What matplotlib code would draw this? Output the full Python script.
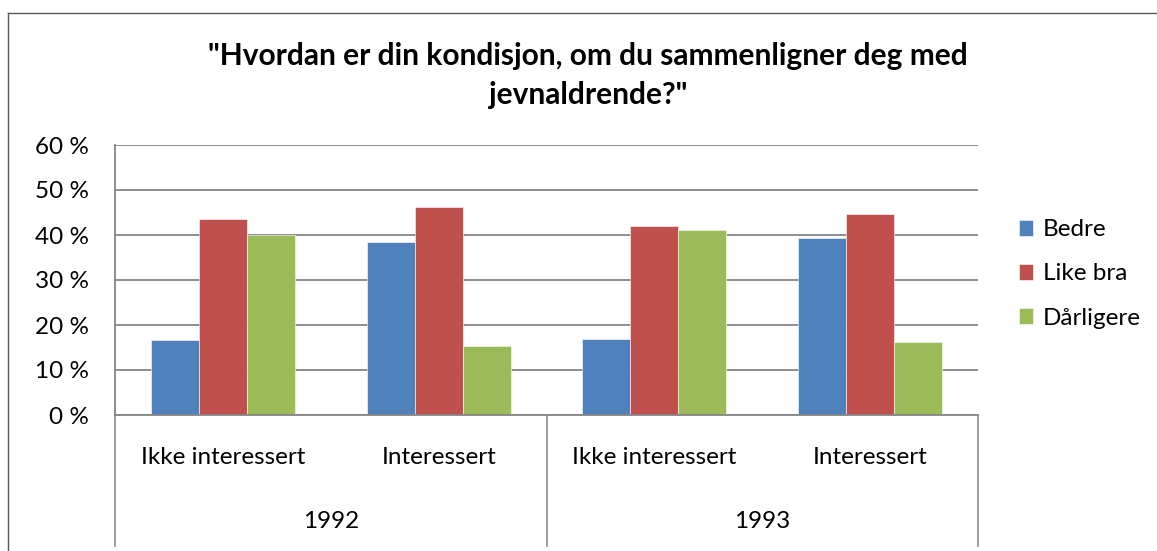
import matplotlib.pyplot as plt
from matplotlib.lines import Line2D
from matplotlib.ticker import FuncFormatter
import numpy as np

# data (percent)
years = ["1992", "1993"]
groups = ["Ikke interessert", "Interessert", "Ikke interessert", "Interessert"]
series_names = ["Bedre", "Like bra", "Dårligere"]
bedre = [16.7, 38.5, 17.0, 39.3]
like_bra = [43.5, 46.2, 41.9, 44.7]
darligere = [39.9, 15.3, 41.1, 16.2]
colors = ["#4F81BD", "#C0504D", "#9BBB59"]

W, H = 1157, 551
fig = plt.figure(figsize=(W / 100, H / 100), dpi=100)
plt.rcParams["font.family"] = ["Lato", "DejaVu Sans"]
fs = 17.5

# plot area in pixels: x 115..978, y 145..415
ax = fig.add_axes([115 / W, 1 - 415 / H, (978 - 115) / W, (415 - 145) / H])

x = np.arange(len(groups))
bw = 1 / 4.5
for i, (vals, name) in enumerate(zip([bedre, like_bra, darligere], series_names)):
    ax.bar(x + (i - 1) * bw, vals, bw, color=colors[i], label=name,
           edgecolor="white", linewidth=0.4, zorder=3)

ax.set_xlim(-0.5, len(groups) - 0.5)
ax.set_ylim(0, 60)
ax.set_yticks(range(0, 61, 10))
ax.yaxis.set_major_formatter(FuncFormatter(lambda v, p: f"{int(v)} %"))
ax.tick_params(axis="y", length=0, pad=19, labelsize=fs)
ax.set_xticks([])
ax.grid(axis="y", color="#868686", linewidth=1.3, zorder=0)
for s in ["top", "right"]:
    ax.spines[s].set_visible(False)
for s in ["left", "bottom"]:
    ax.spines[s].set_color("#868686")
    ax.spines[s].set_linewidth(1.3)
    ax.spines[s].set_zorder(4)

# two-level category axis
trans = ax.get_xaxis_transform()
for xi, g in zip(x, groups):
    ax.text(xi, -(457 - 415) / 270, g, transform=trans, ha="center", va="center", fontsize=fs)
for k, yr in enumerate(years):
    ax.text(2 * k + 0.5, -(522 - 415) / 270, yr, transform=trans, ha="center", va="center", fontsize=fs)
for xs in [-0.5, 1.5, 3.5]:
    ax.plot([xs, xs], [0, -(546 - 415) / 270], transform=trans, color="#969696",
            linewidth=1.3, clip_on=False)

# legend
leg = ax.legend(loc="center left", bbox_to_anchor=((1009 - 115) / (978 - 115), (415 - 274) / 270),
                frameon=False, fontsize=fs, handlelength=0.6, handleheight=0.6,
                handletextpad=0.4, labelspacing=0.95, borderaxespad=0)

# title
fig.text(588 / W, 1 - 65 / H, '"Hvordan er din kondisjon, om du sammenligner deg med',
         ha="center", va="baseline", fontsize=21.5, fontweight="bold")
fig.text(588 / W, 1 - 104 / H, 'jevnaldrende?"',
         ha="center", va="baseline", fontsize=21.5, fontweight="bold")

# chart border
fig.add_artist(Line2D([8 / W, 8 / W], [0, 1 - 13 / H], color="#595959", linewidth=1.0))
fig.add_artist(Line2D([8 / W, 1], [1 - 13 / H, 1 - 13 / H], color="#595959", linewidth=1.0))

fig.savefig("out.png", dpi=100)
